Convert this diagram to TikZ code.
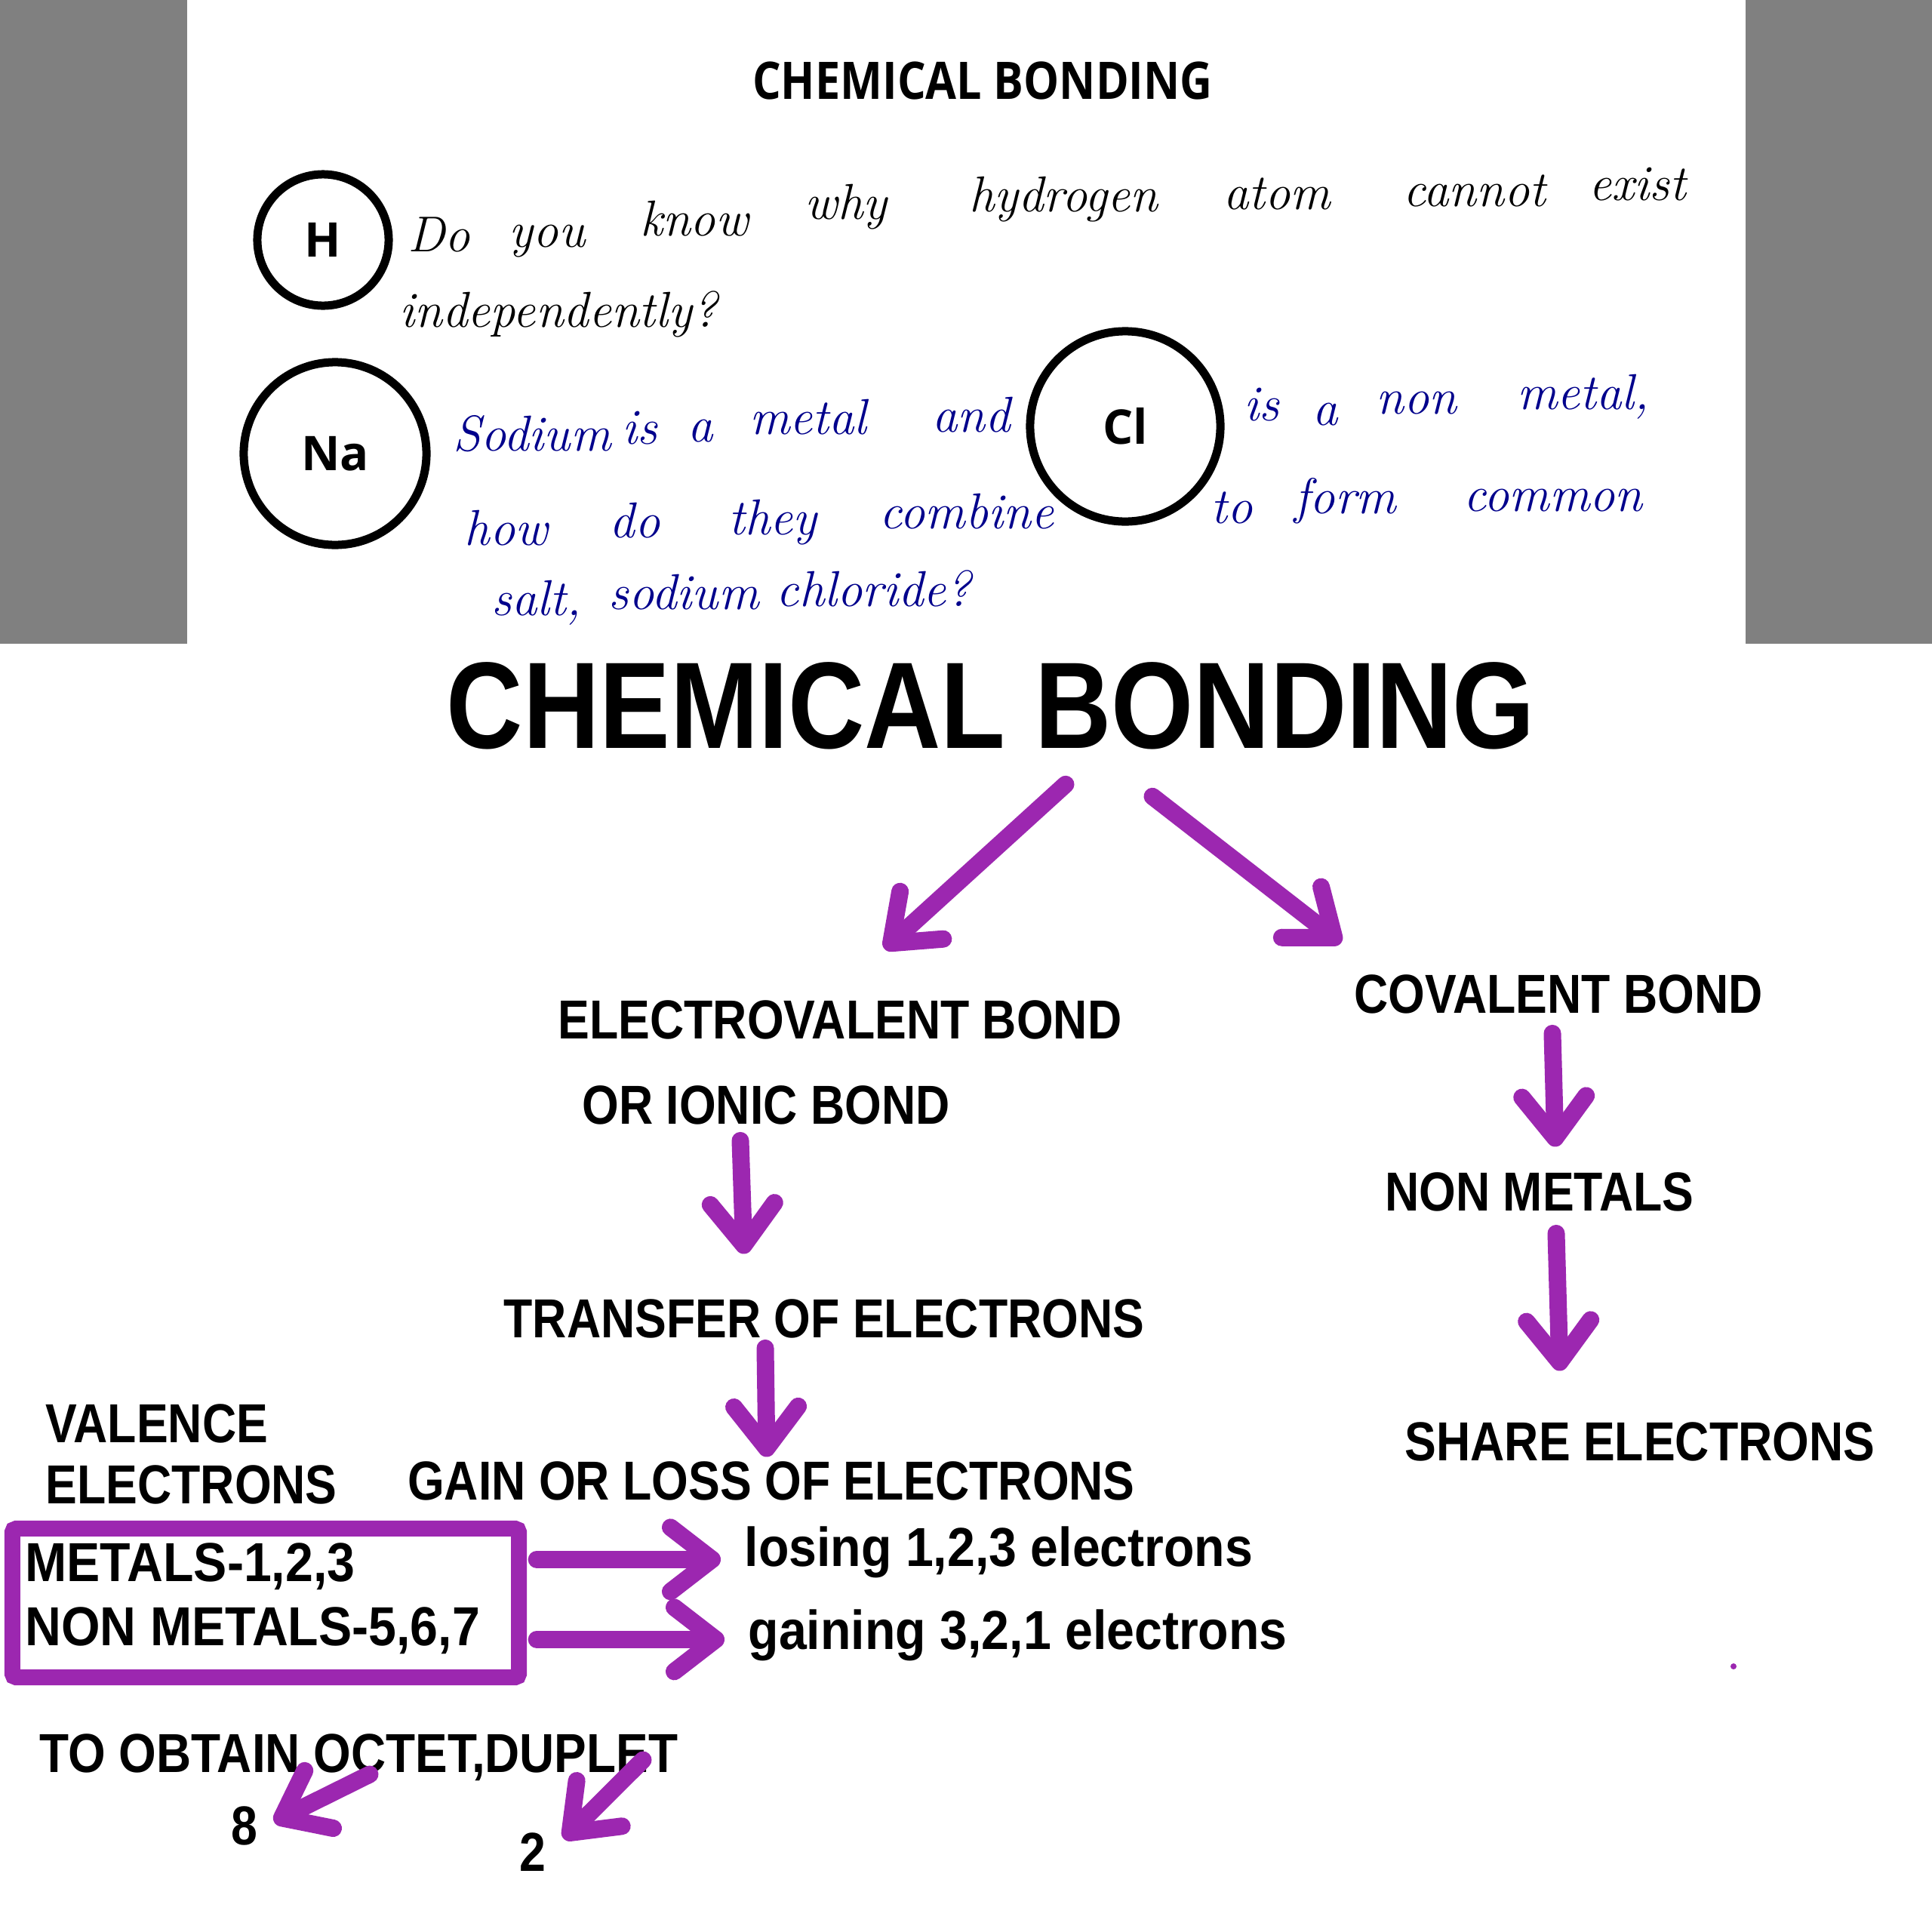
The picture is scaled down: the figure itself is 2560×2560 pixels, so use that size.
\documentclass[tikz,border=0pt]{standalone}
\usepackage{fontspec}
\usetikzlibrary{arrows.meta}
\newfontfamily\labelfont{Liberation Sans}
\newfontfamily\notefont{Open Sans}
\definecolor{bondpurple}{RGB}{156,39,176}
\definecolor{inkblue}{RGB}{0,0,140}
\definecolor{panelgray}{RGB}{128,128,128}
\tikzset{
  lbl/.style={font=\labelfont\bfseries\fontsize{20.7}{24}\selectfont, inner sep=0pt, xscale=0.86, anchor=base},
  wide/.style={xscale=1.058},
  bigtitle/.style={font=\labelfont\bfseries\fontsize{46.4}{50}\selectfont, inner sep=0pt, xscale=0.86, anchor=base},
  toptitle/.style={font=\notefont\bfseries\fontsize{19.5}{22}\selectfont, inner sep=0pt, xscale=0.865, anchor=base},
  atom/.style={circle, draw, line width=0.11cm, inner sep=0pt, font=\notefont\bfseries\fontsize{18}{20}\selectfont},
  hand/.style={font=\itshape\fontsize{19}{22}\selectfont, inner sep=0pt, anchor=base},
  arr/.style={draw=bondpurple, line width=0.23cm, line cap=round,
    -{Straight Barb[round, length=0.55cm, width=0.85cm]}}
}
\begin{document}
\begin{tikzpicture}[x=0.01cm, y=-0.01cm]
  \useasboundingbox (0,0) rectangle (2560,2560);
  \fill[white] (0,0) rectangle (2560,2560);
  % grey side panels of the screenshot
  \fill[panelgray] (0,0) rectangle (248,853);
  \fill[panelgray] (2313,0) rectangle (2560,853);

  % question sheet
  \node[toptitle] (head) at (1302,131) {CHEMICAL BONDING};
  \node[atom, minimum size=1.74cm] (hyd) at (428,318) {H};
  \node[atom, minimum size=2.42cm] (sod) at (444,601) {Na};
  \node[atom, minimum size=2.52cm] (chl) at (1491,565) {Cl};
  \foreach \x/\y/\w [count=\i] in {582/333/Do, 725/327/you, 920/312/know,
      1121/290/why, 1409/280/hydrogen, 1692/277/atom, 1954/273/cannot,
      2170/265/exist, 740/433/independently?}
    \node[hand] (q\i) at (\x,\y) {\w};
  \foreach \x/\y/\w [count=\i] in {705/597/Sodium, 848/588/is, 928/585/a,
      1071/575/metal, 1287/572/and, 1672/557/is, 1756/563/a, 1877/548/non,
      2098/542/{metal,}, 671/722/how, 841/712/do, 1024/708/they,
      1281/700/combine, 1632/693/to, 1783/680/form, 2058/677/common,
      711/815/{salt,}, 906/807/sodium, 1158/803/{chloride?}}
    \node[hand, inkblue] (s\i) at (\x,\y) {\w};

  % chart
  \node[bigtitle] (title) at (1313,991) {CHEMICAL BONDING};
  \node[lbl] (elec) at (1113,1376) {ELECTROVALENT BOND};
  \node[lbl] (ionic) at (1015,1489) {OR IONIC BOND};
  \node[lbl] (transfer) at (1092,1772) {TRANSFER OF ELECTRONS};
  \node[lbl] (gain) at (1022,1987) {GAIN OR LOSS OF ELECTRONS};
  \node[lbl, anchor=base west] (valence) at (60,1911) {VALENCE};
  \node[lbl, anchor=base west] (valelec) at (60,1992) {ELECTRONS};
  \node[draw=bondpurple, line width=0.21cm, rounded corners=0.05cm,
    minimum width=6.71cm, minimum height=1.97cm] (box) at (352,2124) {};
  \node[lbl, wide, anchor=base west] (metals) at (33,2095) {METALS-1,2,3};
  \node[lbl, wide, anchor=base west] (nonmetals) at (33,2180) {NON METALS-5,6,7};
  \node[lbl, wide, anchor=base west] (losing) at (986,2075) {losing 1,2,3 electrons};
  \node[lbl, wide, anchor=base west] (gaining) at (991,2185) {gaining 3,2,1 electrons};
  \node[lbl, xscale=1.02, anchor=base west] (obtain) at (52,2348) {TO OBTAIN OCTET,DUPLET};
  \node[lbl] (eight) at (324,2444) {8};
  \node[lbl] (two) at (706,2479) {2};
  \node[lbl] (cov) at (2065,1342) {COVALENT BOND};
  \node[lbl] (nonm) at (2040,1604) {NON METALS};
  \node[lbl] (share) at (2173,1935) {SHARE ELECTRONS};

  \draw[arr] ([shift={(99,46)}]title.south) -- ([shift={(59,-67)}]elec.north);
  \draw[arr] ([shift={(214,62)}]title.south) -- ([shift={(-288,-41)}]cov.north);
  \draw[arr] ([shift={(-34,21)}]ionic.south) -- ([shift={(-106,-59)}]transfer.north);
  \draw[arr] ([shift={(-78,13)}]transfer.south) -- ([shift={(-6,-5)}]gain.north);
  \draw[arr] ([shift={(13,10)}]box.east |- losing.west) -- ([shift={(-31,10)}]losing.west);
  \draw[arr] ([shift={(13,6)}]box.east |- gaining.west) -- ([shift={(-31,6)}]gaining.west);
  \draw[arr] ([shift={(438,3)}]obtain.base west) -- ([shift={(21,-5)}]eight.east);
  \draw[arr] ([shift={(800,-16)}]obtain.base west) -- ([shift={(23,-17)}]two.east);
  \draw[arr] ([shift={(-8,26)}]cov.south) -- ([shift={(21,-33)}]nonm.north);
  \draw[arr] ([shift={(22,29)}]nonm.south) -- ([shift={(-106,-67)}]share.north);
  \fill[bondpurple] (2297,2208) circle (0.04cm);
\end{tikzpicture}
\end{document}
